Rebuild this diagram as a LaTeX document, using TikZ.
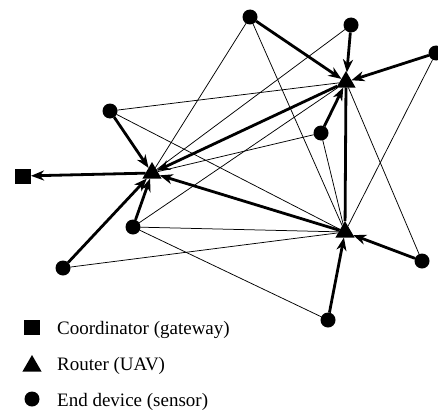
\documentclass[tikz,border=0pt]{standalone}
\usepackage{fontspec}
\setmainfont{Liberation Serif}
\usetikzlibrary{arrows.meta,shapes.geometric}
\begin{document}
\begin{tikzpicture}[x=1pt,y=-1pt,
  dev/.style={circle,fill=black,inner sep=0pt,outer sep=0pt,minimum size=15pt},
  rtr/.style={regular polygon,regular polygon sides=3,fill=black,inner sep=0pt,outer sep=0pt,minimum size=22pt},
  gw/.style={rectangle,fill=black,inner sep=0pt,outer sep=0pt,minimum width=16pt,minimum height=15pt},
  link/.style={line width=0.75pt},
  flow/.style={line width=2.8pt,-{Stealth[length=13pt,width=10pt,inset=4pt]}},
  trunk/.style={line width=2.8pt},
  lbl/.style={anchor=base west,inner sep=0pt,font=\fontsize{19}{23}\selectfont}]
\useasboundingbox (0,0) rectangle (438,412);

% nodes
\node[gw]  (sq) at (23,176) {};
\node[rtr] (A)  at (152,173) {};
\node[rtr] (B)  at (346,82) {};
\node[rtr] (C)  at (345,232) {};
\node[dev] (e1) at (250,17) {};
\node[dev] (e2) at (351,25) {};
\node[dev] (e3) at (436,53) {};
\node[dev] (e4) at (110,111) {};
\node[dev] (e5) at (321,133) {};
\node[dev] (e6) at (133,227) {};
\node[dev] (e7) at (63,268) {};
\node[dev] (e8) at (422,261) {};
\node[dev] (e9) at (328,320) {};

% thin links
\draw[link] (e1) -- (A);
\draw[link] (e1) -- (C);
\draw[link] (e2) -- (A);
\draw[link] (e3) -- (C);
\draw[link] (e4) -- (B);
\draw[link] (e4) -- (C);
\draw[link] (e5) -- (A);
\draw[link] (e5) -- (C);
\draw[link] (e6) -- (B);
\draw[link] (e6) -- (C);
\draw[link] (e6) -- (e9);
\draw[link] (e7) -- (C);
\draw[link] (e8) -- (B);

% thick routes
\draw[trunk] (C) -- (B);
\draw[flow] (A) -- (sq);
\draw[flow] (e4) -- (A);
\draw[flow] (e6) -- (A);
\draw[flow] (e7) -- (A);
\draw[flow] (B) -- (A);
\draw[flow] (C) -- (A);
\draw[flow] (e1) -- (B);
\draw[flow] (e2) -- (B);
\draw[flow] (e3) -- (B);
\draw[flow] (e5) -- (B);
\draw[flow] (e8) -- (C);
\draw[flow] (e9) -- (C);

% legend
\node[gw]  (lsq) at (32,327) {};
\node[rtr] (ltr) at (32,366) {};
\node[dev] (lci) at (32,399) {};
\node[lbl] (t1) at (57,334) {Coordinator (gateway)};
\node[lbl] (t2) at (57,370) {Router (UAV)};
\node[lbl] (t3) at (57,406) {End device (sensor)};
\end{tikzpicture}
\end{document}
